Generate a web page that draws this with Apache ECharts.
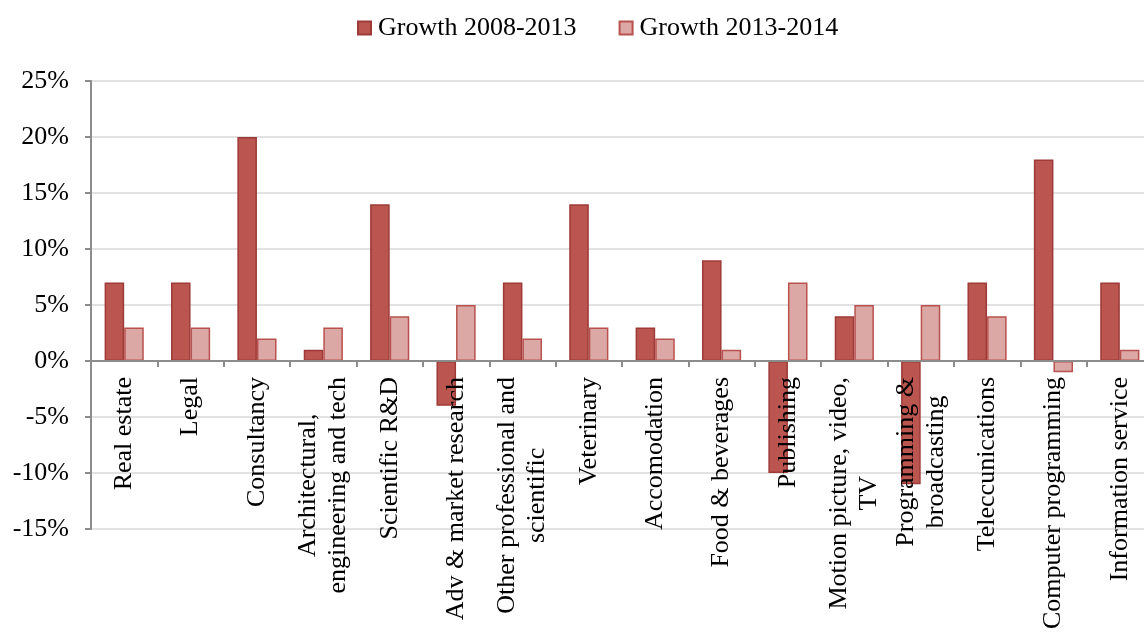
<!DOCTYPE html>
<html>
<head>
<meta charset="utf-8">
<script src="https://cdn.jsdelivr.net/npm/echarts@6/dist/echarts.min.js"></script>
<style>
  html, body { margin: 0; padding: 0; background: #fff; }
  #chart { width: 1144px; height: 635px; }
</style>
</head>
<body>
<div id="chart"></div>
<script>
// Sector categories (line breaks as they wrap under the axis)
const categories = [
  'Real estate',
  'Legal',
  'Consultancy',
  'Architectural,\nengineering and tech',
  'Scientific R&D',
  'Adv & market research',
  'Other professional and\nscientific',
  'Veterinary',
  'Accomodation',
  'Food & beverages',
  'Publishing',
  'Motion picture, video,\nTV',
  'Programming &\nbroadcasting',
  'Teleccunications',
  'Computer programming',
  'Information service'
];

// Growth rates in percent
const growth2008to2013 = [7, 7, 20, 1, 14, -4, 7, 14, 3, 9, -10, 4, -11, 7, 18, 7];
const growth2013to2014 = [3, 3, 2, 3, 4, 5, 2, 3, 2, 1, 7, 5, 5, 4, -1, 1];

const seriesNames = ['Growth 2008-2013', 'Growth 2013-2014'];

// Value axis range and step (percent)
const yMin = -15;
const yMax = 25;
const yStep = 5;

const serif = '"Liberation Serif", "Times New Roman", serif';

const gridTop = 81;
const gridBottom = 106;
const gridHeight = 635 - gridTop - gridBottom;
// Category axis sits on the 0% line: shift it up from the grid's bottom edge
const zeroOffset = -gridHeight * (0 - yMin) / (yMax - yMin);

const chart = echarts.init(document.getElementById('chart'), null, { renderer: 'canvas' });

chart.setOption({
  animation: false,
  legend: {
    top: 10,
    left: 352,
    icon: 'rect',
    itemWidth: 13,
    itemHeight: 13,
    itemGap: 42,
    textStyle: { fontFamily: serif, fontSize: 26, color: '#000', padding: [0, 0, 0, 2] },
    data: seriesNames
  },
  grid: {
    left: 91,
    right: -9,
    top: gridTop,
    bottom: gridBottom,
    containLabel: false,
    outerBoundsMode: 'none'
  },
  xAxis: {
    type: 'category',
    data: categories,
    offset: zeroOffset,
    z: 5,
    axisLine: { onZero: false, lineStyle: { color: '#8c8c8c', width: 2 } },
    axisTick: { show: true, alignWithLabel: false, length: 6, lineStyle: { color: '#8c8c8c', width: 2 } },
    axisLabel: {
      interval: 0,
      rotate: 90,
      margin: 16,
      color: '#000',
      fontFamily: serif,
      fontSize: 26,
      lineHeight: 30,
      formatter: function (value) {
        return value.split('\n').map(function (line) { return '{c|' + line + '}'; }).join('\n');
      },
      rich: {
        c: { align: 'center', fontFamily: serif, fontSize: 26, lineHeight: 30, color: '#000' }
      }
    },
    splitLine: { show: false }
  },
  yAxis: {
    type: 'value',
    min: yMin,
    max: yMax,
    interval: yStep,
    axisLine: { show: true, lineStyle: { color: '#8c8c8c', width: 2 } },
    axisTick: { show: true, length: 6, lineStyle: { color: '#8c8c8c', width: 2 } },
    axisLabel: {
      margin: 22,
      color: '#000',
      fontFamily: serif,
      fontSize: 26,
      formatter: function (v) { return v + '%'; }
    },
    splitLine: { show: true, lineStyle: { color: '#d9d9d9', width: 1.5 } }
  },
  series: [
    {
      name: seriesNames[0],
      type: 'bar',
      data: growth2008to2013,
      barGap: '0%',
      barCategoryGap: '41%',
      itemStyle: { color: '#ba5550', borderColor: '#9e3b38', borderWidth: 1.5 }
    },
    {
      name: seriesNames[1],
      type: 'bar',
      data: growth2013to2014,
      barGap: '0%',
      barCategoryGap: '41%',
      itemStyle: { color: '#dca8a6', borderColor: '#b9524e', borderWidth: 1.5 }
    }
  ]
});
</script>
</body>
</html>
